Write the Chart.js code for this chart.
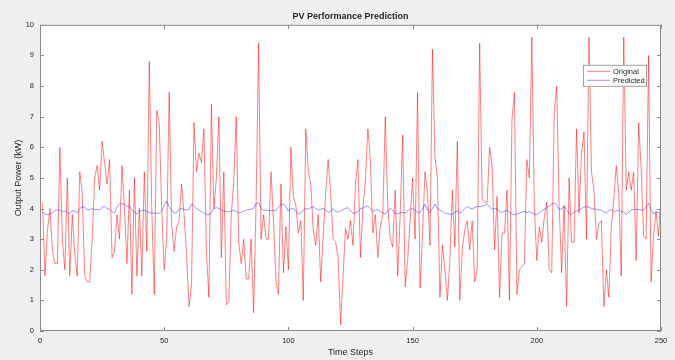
<!DOCTYPE html>
<html>
<head>
<meta charset="utf-8">
<title>PV Performance Prediction</title>
<script src="https://cdn.jsdelivr.net/npm/chart.js@4.4.0/dist/chart.umd.min.js"></script>
<style>
  html, body { margin: 0; padding: 0; background: #f0f0f0; }
  #wrap { width: 675px; height: 360px; }
</style>
</head>
<body>
<div id="wrap"><canvas id="pvChart" width="675" height="360"></canvas></div>
<script>
// values, time steps 1..250
const original = [
  4.2, 1.8, 3.3, 4.0, 2.6, 2.2, 2.2, 6.0, 3.0, 2.0,
  5.0, 1.8, 3.8, 2.5, 1.8, 5.2, 4.5, 1.8, 1.6, 1.6,
  3.0, 5.0, 5.4, 4.6, 6.2, 5.5, 4.8, 5.6, 2.4, 2.6,
  3.8, 3.0, 5.4, 4.0, 2.2, 4.6, 1.2, 5.0, 1.8, 4.0,
  1.8, 5.2, 2.6, 8.8, 4.0, 1.2, 7.2, 6.8, 4.0, 2.0,
  3.0, 7.8, 3.5, 2.6, 3.4, 3.6, 4.8, 3.8, 2.5, 0.8,
  1.5, 6.8, 5.2, 5.8, 5.5, 6.6, 2.6, 1.1, 7.4, 4.0,
  5.0, 7.0, 2.4, 5.2, 0.85, 0.95, 3.8, 4.9, 7.0, 2.9,
  2.2, 3.0, 1.7, 1.7, 3.0, 0.6, 4.2, 9.4, 3.0, 3.8,
  3.0, 3.0, 5.2, 3.6, 1.6, 1.2, 4.8, 1.9, 3.4, 2.0,
  6.0, 4.4, 4.1, 3.2, 3.6, 1.0, 6.6, 5.2, 4.8, 3.3,
  2.8, 3.8, 1.6, 3.1, 4.5, 5.6, 4.5, 3.0, 2.9, 2.4,
  0.2, 1.8, 3.35, 3.0, 3.6, 2.8, 4.8, 5.6, 2.4, 4.0,
  4.9, 6.6, 5.6, 3.2, 3.8, 2.4, 3.4, 3.8, 7.0, 4.1,
  3.0, 2.75, 4.6, 1.8, 3.8, 6.4, 1.45, 2.3, 3.6, 5.0,
  3.0, 7.8, 1.4, 3.2, 5.2, 4.5, 2.8, 9.2, 5.7, 5.0,
  1.1, 2.8, 2.0, 1.0, 2.3, 4.6, 2.75, 6.2, 1.0, 2.65,
  3.3, 3.6, 2.65, 3.6, 1.6, 2.0, 9.4, 4.3, 4.2, 4.2,
  6.0, 5.4, 2.65, 4.4, 1.1, 3.2, 3.2, 4.6, 1.0, 6.9,
  7.8, 1.2, 2.0, 2.1, 2.2, 5.6, 5.0, 9.6, 4.1, 2.3,
  3.4, 2.9, 3.7, 4.2, 2.0, 1.9, 7.1, 8.0, 4.1, 1.9,
  4.1, 0.8, 5.0, 2.9, 2.9, 6.6, 3.85, 5.8, 6.5, 3.0,
  9.6, 5.2, 4.6, 3.0, 3.5, 3.6, 0.8, 2.0, 1.1, 3.4,
  4.3, 5.4, 4.5, 1.8, 9.6, 4.6, 5.2, 4.6, 5.2, 2.3,
  6.8, 5.3, 3.1, 3.0, 9.0, 1.6, 3.1, 3.9, 3.1, 4.4
];

const predicted = [
  3.88, 3.82, 3.8, 3.82, 3.86, 3.93, 3.96, 3.95, 3.9, 3.92,
  3.85, 3.84, 3.93, 3.92, 3.86, 4.0, 4.05, 4.05, 3.95, 3.96,
  4.0, 3.97, 3.97, 3.95, 4.03, 4.07, 4.0, 3.98, 3.9, 3.85,
  4.05, 4.16, 4.16, 4.14, 4.07, 4.08, 3.95, 3.88, 3.82, 3.9,
  3.94, 3.95, 3.9, 3.87, 3.85, 3.85, 3.84, 3.85, 3.92, 4.1,
  4.24, 4.05, 3.95, 3.85, 3.85, 3.98, 4.0, 3.97, 3.96, 3.96,
  4.15, 4.1, 4.0, 3.95, 3.9, 3.85, 3.8, 3.8, 3.85, 4.0,
  4.03, 4.0, 3.95, 3.92, 3.9, 3.88, 3.92, 3.95, 3.9, 3.85,
  3.88, 3.92, 3.95, 3.96, 3.98, 4.0, 4.15, 4.2, 4.0, 3.95,
  3.95, 3.94, 3.93, 3.93, 3.94, 4.05, 4.13, 4.15, 4.05, 3.92,
  3.98, 4.0, 3.9, 3.82, 3.85, 3.95, 4.0, 3.98, 4.03, 4.06,
  4.0, 3.95, 3.98, 4.0, 3.95, 3.88, 3.9, 4.0, 3.9, 3.88,
  3.92, 3.97, 4.0, 4.03, 3.93, 3.84, 3.86, 3.9, 4.0, 4.02,
  4.06, 4.08, 4.0, 3.9, 3.95, 3.97, 3.9, 3.85, 3.82, 3.9,
  4.0, 3.95, 3.84, 3.82, 3.85, 3.87, 3.86, 3.92, 3.98, 4.0,
  3.95, 3.88, 3.87, 4.0, 4.14, 3.95, 3.87, 4.0, 4.15, 4.0,
  3.95, 3.9, 3.85, 3.83, 3.82, 3.8, 3.88, 3.92, 3.85, 3.9,
  4.0, 4.07, 4.02, 3.99, 4.03, 4.06, 4.07, 4.08, 4.1, 4.15,
  4.05, 3.97, 4.0, 3.98, 3.9, 3.88, 3.9, 3.95, 3.87, 3.82,
  3.8, 3.82, 3.85, 3.88, 3.9, 3.87, 3.9, 3.85, 3.82, 3.8,
  3.85, 3.92, 3.98, 4.03, 4.08, 4.15, 4.17, 4.12, 3.97, 3.98,
  4.08, 3.95, 3.85, 3.8, 3.88, 3.92, 3.95, 4.0, 4.05, 4.06,
  4.04, 4.0, 3.98, 3.97, 3.96, 3.95, 3.9, 3.85, 3.93, 3.97,
  3.88, 3.92, 3.95, 3.9, 3.88, 3.81, 3.88, 3.95, 3.97, 3.98,
  3.97, 3.95, 3.95, 4.05, 4.17, 3.95, 3.82, 3.88, 3.87, 3.85
];

const seriesNames = ['Original', 'Predicted'];
const seriesColors = ['rgba(255, 0, 0, 0.5)', 'rgba(0, 0, 255, 0.42)'];
const xTicks = [0, 50, 100, 150, 200, 250];
const yTicks = [0, 1, 2, 3, 4, 5, 6, 7, 8, 9, 10];

const axisColor = '#8a8a8a';
const textColor = '#262626';

Chart.defaults.font.family = "'Liberation Sans', Arial, Helvetica, sans-serif";
Chart.defaults.color = textColor;

function toPoints(values) {
    return values.map((v, i) => ({ x: i + 1, y: v }));
}

// matlab style: white axes on grey figure, box with inward ticks, legend inside
const matlabAxes = {
    id: 'matlabAxes',
    beforeDatasetsDraw(chart) {
        const { ctx, chartArea: a } = chart;
        ctx.save();
        ctx.fillStyle = '#ffffff';
        ctx.fillRect(a.left, a.top, a.width, a.height);
        ctx.restore();
    },
    afterDatasetsDraw(chart) {
        const { ctx, chartArea: a, scales } = chart;
        const tl = 4;
        ctx.save();
        ctx.strokeStyle = axisColor;
        ctx.lineWidth = 1;
        ctx.strokeRect(a.left + 0.5, a.top + 0.5, a.width - 1, a.height - 1);

        ctx.beginPath();
        xTicks.forEach(v => {
            const px = Math.round(scales.x.getPixelForValue(v)) + 0.5;
            ctx.moveTo(px, a.bottom); ctx.lineTo(px, a.bottom - tl);
            ctx.moveTo(px, a.top); ctx.lineTo(px, a.top + tl);
        });
        yTicks.forEach(v => {
            const py = Math.round(scales.y.getPixelForValue(v)) + 0.5;
            ctx.moveTo(a.left, py); ctx.lineTo(a.left + tl, py);
            ctx.moveTo(a.right, py); ctx.lineTo(a.right - tl, py);
        });
        ctx.stroke();

        // legend box
        const bw = 64, bh = 22;
        const bx = a.right - 14 - bw;
        const by = a.top + 40;
        ctx.fillStyle = '#ffffff';
        ctx.fillRect(bx, by, bw, bh);
        ctx.strokeStyle = '#a0a0a0';
        ctx.strokeRect(bx + 0.5, by + 0.5, bw - 1, bh - 1);

        ctx.font = "7.5px 'Liberation Sans', Arial, sans-serif";
        ctx.textBaseline = 'middle';
        ctx.textAlign = 'left';
        chart.data.datasets.forEach((ds, i) => {
            const ly = by + 6.5 + i * 9;
            ctx.strokeStyle = ds.borderColor;
            ctx.beginPath();
            ctx.moveTo(bx + 4, ly);
            ctx.lineTo(bx + 27, ly);
            ctx.stroke();
            ctx.fillStyle = textColor;
            ctx.fillText(ds.label, bx + 30, ly + 0.5);
        });
        ctx.restore();
    }
};

const ctx = document.getElementById('pvChart');

const pvChart = new Chart(ctx, {
    type: 'line',
    data: {
        datasets: [{
            label: seriesNames[0],
            data: toPoints(original),
            borderColor: seriesColors[0],
            borderWidth: 1,
            pointRadius: 0,
            tension: 0,
        }, {
            label: seriesNames[1],
            data: toPoints(predicted),
            borderColor: seriesColors[1],
            borderWidth: 1,
            pointRadius: 0,
            tension: 0,
        }]
    },
    options: {
        responsive: false,
        animation: false,
        layout: {
            padding: { left: 0, right: 14, top: 0, bottom: 0 }
        },
        plugins: {
            legend: { display: false },
            tooltip: { enabled: false },
            title: {
                display: true,
                text: 'PV Performance Prediction',
                fullSize: false,
                color: textColor,
                font: { size: 9, weight: 'bold' },
                padding: { top: 11, bottom: 3 }
            }
        },
        scales: {
            x: {
                type: 'linear',
                min: 0,
                max: 250,
                afterBuildTicks: scale => { scale.ticks = xTicks.map(v => ({ value: v })); },
                afterFit: scale => { scale.height = 29; },
                grid: { display: false, drawTicks: false },
                border: { display: false },
                ticks: { padding: 5, maxRotation: 0, font: { size: 7.5 }, color: textColor },
                title: {
                    display: true,
                    text: 'Time Steps',
                    font: { size: 9 },
                    color: textColor,
                    padding: { top: 0, bottom: 2 }
                }
            },
            y: {
                min: 0,
                max: 10,
                afterBuildTicks: scale => { scale.ticks = yTicks.map(v => ({ value: v })); },
                afterFit: scale => { scale.width = 40; },
                grid: { display: false, drawTicks: false },
                border: { display: false },
                ticks: { padding: 6, font: { size: 7.5 }, color: textColor },
                title: {
                    display: true,
                    text: 'Output Power (kW)',
                    font: { size: 9 },
                    color: textColor,
                    padding: { top: 13, bottom: 0 }
                }
            }
        }
    },
    plugins: [matlabAxes]
});
</script>
</body>
</html>
